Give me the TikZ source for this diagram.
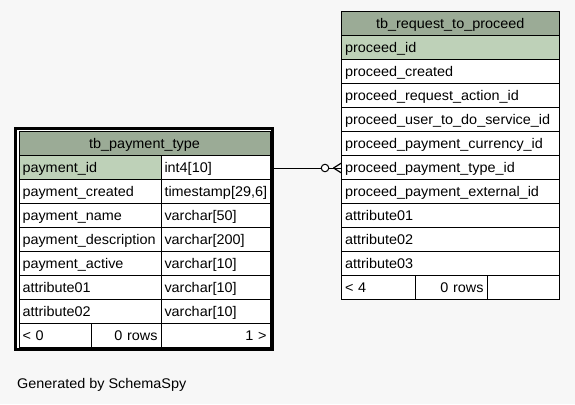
\documentclass[tikz,border=0pt]{standalone}
\usepackage{fontspec}
\setmainfont{Liberation Sans}[FakeStretch=1.03]
\definecolor{bgcol}{HTML}{F7F7F7}
\definecolor{headcol}{HTML}{9BAB96}
\definecolor{pkcol}{HTML}{BED1B8}
\tikzset{
  cell/.style={draw=black, line width=1pt, fill=white, anchor=north west,
    minimum height=24pt, inner xsep=3.5pt, inner ysep=0pt, outer sep=0pt,
    text width=#1, text height=10.6pt, text depth=0pt, align=left,
    font=\fontsize{14pt}{16pt}\selectfont},
  headcell/.style={cell=#1, fill=headcol, align=center},
  pkcell/.style={cell=#1, fill=pkcol},
  rcell/.style={cell=#1, align=right},
  frame/.style={draw=black, line width=3pt, fill=white, anchor=north west,
    inner sep=0pt, outer sep=0pt},
  conn/.style={draw=black, line width=1pt}
}
\begin{document}
\begin{tikzpicture}[x=1pt,y=-1pt]
\fill[bgcol] (0,0) rectangle (575,404);
\useasboundingbox (0,0) rectangle (575,404);

% ---- tb_payment_type (focused table) ----
\node[frame, minimum width=257pt, minimum height=221pt] (ptframe) at (15.5,128.5) {};
\node[headcell=244pt] (pthead) at (19,131) {tb\_payment\_type};
\node[pkcell=135pt] (pt1) at (19,155) {payment\_id};
\node[cell=102pt]   (pt1t) at (161,155) {int4[10]};
\node[cell=135pt] (pt2) at (19,179) {payment\_created};
\node[cell=102pt] (pt2t) at (161,179) {timestamp[29,6]};
\node[cell=135pt] (pt3) at (19,203) {payment\_name};
\node[cell=102pt] (pt3t) at (161,203) {varchar[50]};
\node[cell=135pt] (pt4) at (19,227) {payment\_description};
\node[cell=102pt] (pt4t) at (161,227) {varchar[200]};
\node[cell=135pt] (pt5) at (19,251) {payment\_active};
\node[cell=102pt] (pt5t) at (161,251) {varchar[10]};
\node[cell=135pt] (pt6) at (19,275) {attribute01};
\node[cell=102pt] (pt6t) at (161,275) {varchar[10]};
\node[cell=135pt] (pt7) at (19,299) {attribute02};
\node[cell=102pt] (pt7t) at (161,299) {varchar[10]};
\node[cell=65pt]  (ptf1) at (19,323) {< 0};
\node[rcell=63pt] (ptf2) at (91,323) {0 rows};
\node[rcell=102pt] (ptf3) at (161,323) {1 >};

% ---- tb_request_to_proceed ----
\node[headcell=210.5pt] (rqhead) at (341.5,11.5) {tb\_request\_to\_proceed};
\node[pkcell=210.5pt] (rq1) at (341.5,35.5) {proceed\_id};
\node[cell=210.5pt] (rq2) at (341.5,59.5) {proceed\_created};
\node[cell=210.5pt] (rq3) at (341.5,83.5) {proceed\_request\_action\_id};
\node[cell=210.5pt] (rq4) at (341.5,107.5) {proceed\_user\_to\_do\_service\_id};
\node[cell=210.5pt] (rq5) at (341.5,131.5) {proceed\_payment\_currency\_id};
\node[cell=210.5pt] (rq6) at (341.5,155.5) {proceed\_payment\_type\_id};
\node[cell=210.5pt] (rq7) at (341.5,179.5) {proceed\_payment\_external\_id};
\node[cell=210.5pt] (rq8) at (341.5,203.5) {attribute01};
\node[cell=210.5pt] (rq9) at (341.5,227.5) {attribute02};
\node[cell=210.5pt] (rq10) at (341.5,251.5) {attribute03};
\node[cell=66.5pt] (rqf1) at (341.5,275.5) {< 4};
\node[rcell=65pt] (rqf2) at (415,275.5) {0 rows};
\node[cell=65pt] (rqf3) at (487,275.5) {};

% ---- connector ----
\coordinate (cstart) at (ptframe.east |- 0,168);
\coordinate (cend) at (rq6.west |- 0,168);
\coordinate (foot) at (333.5,168);
\draw[conn] (cstart) -- (cend);
\node[draw=black, line width=1pt, fill=white, circle, inner sep=0pt,
  minimum size=7.5pt] (zero) at (325,168) {};
\draw[conn, line width=1.2pt] (foot) -- (cend |- 0,163);
\draw[conn, line width=1.2pt] (foot) -- (cend |- 0,173);

% ---- footer text ----
\node[anchor=base west, inner sep=0pt, font=\fontsize{14pt}{16pt}\selectfont]
  (gen) at (17,388.3) {Generated by SchemaSpy};
\end{tikzpicture}
\end{document}
